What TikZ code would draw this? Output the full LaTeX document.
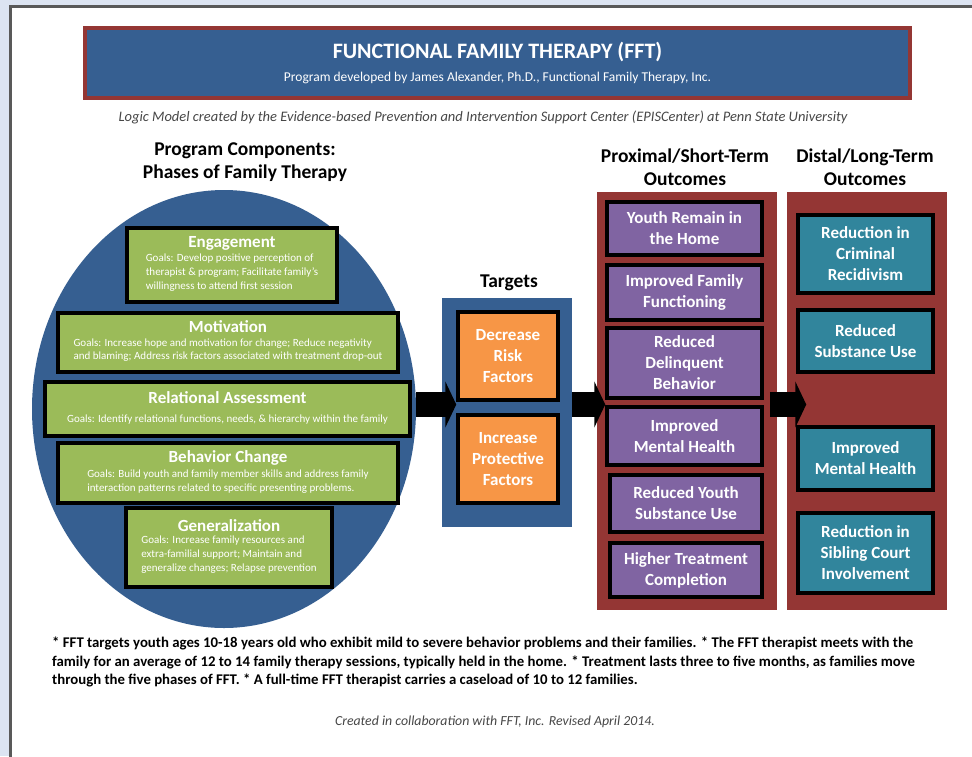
\documentclass[tikz,border=0pt]{standalone}
\usepackage{fontspec}
\setmainfont{Carlito}
\usepackage{xcolor}
\usetikzlibrary{arrows.meta,shapes,positioning}

\definecolor{pagebg}{RGB}{220,228,242}
\definecolor{fftblue}{RGB}{54,95,145}
\definecolor{fftred}{RGB}{148,54,52}
\definecolor{fftgreen}{RGB}{155,187,89}
\definecolor{fftorange}{RGB}{247,150,70}
\definecolor{fftpurple}{RGB}{128,100,162}
\definecolor{fftteal}{RGB}{49,133,156}

\newcommand{\phgoals}[1]{{\mdseries\fontsize{11}{13.8}\selectfont
    \begin{tabular}{@{}l@{}}#1\end{tabular}}}

\begin{document}
\begin{tikzpicture}[
    x=1pt, y=-1pt,
    >=Stealth,
    panel/.style={inner sep=0pt},
    phase/.style={draw=black, line width=3.5pt, fill=fftgreen,
        inner sep=0pt, align=center, text=white,
        font=\fontsize{17}{19}\selectfont\bfseries},
    target/.style={draw=black, line width=3.5pt, fill=fftorange,
        minimum width=100, minimum height=88, inner sep=0pt,
        align=center, text=white,
        font=\fontsize{17}{21}\selectfont\bfseries},
    shortterm/.style={target, fill=fftpurple, minimum width=155},
    longterm/.style={target, fill=fftteal, minimum width=135},
    heading/.style={align=center, font=\fontsize{19.5}{23}\selectfont\bfseries},
    remark/.style={text=black!72, font=\fontsize{14.5}{17}\selectfont\itshape},
    blockarr/.style={line width=25pt, -{Triangle[length=11pt,width=46pt]}}
]
\useasboundingbox (0,0) rectangle (972,756);
\fill[pagebg] (0,0) rectangle (972,756);
\draw[line width=3.5, draw=black!65, fill=white] (10.5,6.5) rectangle (1000,790);

% banner
\node[draw=fftred, line width=3.5pt, fill=fftblue, minimum width=825,
    minimum height=70, inner sep=0pt] (hdr) at (497.5,63) {};
\node[text=white, font=\fontsize{22}{25}\selectfont\bfseries] (ttl) at (497.5,52)
    {FUNCTIONAL FAMILY THERAPY (FFT)};
\node[text=white, font=\fontsize{13.5}{16}\selectfont] (sub) at (497.5,78)
    {Program developed by James Alexander, Ph.D., Functional Family Therapy, Inc.};
\node[remark] (lm) at (483,117)
    {Logic Model created by the Evidence-based Prevention and Intervention Support Center (EPISCenter) at Penn State University};

% phases
\node[heading] (H1) at (245,162) {Program Components:\\Phases of Family Therapy};
\node[ellipse, fill=fftblue, minimum width=384, minimum height=438,
    inner sep=0pt] (phases) at (224,409) {};
\node[phase, minimum width=210, minimum height=74] (G1) at (232,265)
    {Engagement\\[1pt]\phgoals{Goals: Develop positive perception of\\therapist \& program; Facilitate family's\\willingness to attend first session}};
\node[phase, minimum width=340, minimum height=59] (G2) at (228,342.5)
    {Motivation\\[1pt]\phgoals{Goals: Increase hope and motivation for change; Reduce negativity\\and blaming; Address risk factors associated with treatment drop-out}};
\node[phase, minimum width=365, minimum height=54] (G3) at (227.5,409)
    {Relational Assessment\\[0pt]\phgoals{Goals: Identify relational functions, needs, \& hierarchy within the family}};
\node[phase, minimum width=340, minimum height=60] (G4) at (228,473)
    {Behavior Change\\[1pt]\phgoals{Goals: Build youth and family member skills and address family\\interaction patterns related to specific presenting problems.}};
\node[phase, minimum width=206, minimum height=79] (G5) at (229,547.5)
    {Generalization\\[1pt]\phgoals{Goals: Increase family resources and\\extra-familial support; Maintain and\\generalize changes; Relapse prevention}};

% targets
\node[heading] (H2) at (509,283) {Targets};
\node[panel, fill=fftblue, minimum width=130, minimum height=229] (TB) at (507,412.5) {};
\node[target] (T1) at (508,356) {Decrease\\Risk\\Factors};
\node[target] (T2) at (508,459) {Increase\\Protective\\Factors};

% proximal outcomes
\node[heading] (H3) at (685,167) {Proximal/Short-Term\\Outcomes};
\node[panel, fill=fftred, minimum width=180, minimum height=418] (SP) at (687,401) {};
\node[shortterm, minimum height=53] (S1) at (684.5,228.5) {Youth Remain in\\the Home};
\node[shortterm, minimum height=55] (S2) at (684.5,292.5) {Improved Family\\Functioning};
\node[shortterm, minimum height=70] (S3) at (684.5,363) {Reduced\\Delinquent\\Behavior};
\node[shortterm, minimum height=58] (S4) at (684.5,436) {Improved\\Mental Health};
\node[shortterm, minimum width=152, minimum height=57] (S5) at (686,503.5) {Reduced Youth\\Substance Use};
\node[shortterm, minimum width=152, minimum height=54] (S6) at (686,570) {Higher Treatment\\Completion};

% distal outcomes
\node[heading] (H4) at (865,167) {Distal/Long-Term\\Outcomes};
\node[panel, fill=fftred, minimum width=160, minimum height=418] (DP) at (867,401) {};
\node[longterm, minimum height=78] (D1) at (865.5,254) {Reduction in\\Criminal\\Recidivism};
\node[longterm, minimum height=62] (D2) at (865.5,341) {Reduced\\Substance Use};
\node[longterm, minimum height=63] (D3) at (865.5,458.5) {Improved\\Mental Health};
\node[longterm, minimum height=80] (D4) at (865.5,553) {Reduction in\\Sibling Court\\Involvement};

% arrows between the columns
\coordinate (mid) at (0,404.5);
\draw[blockarr] (phases.east |- mid) -- (T1.west |- mid);
\draw[blockarr] (TB.east |- mid) -- (S3.west |- mid);
\draw[blockarr, shorten <=6pt, shorten >=-10pt] (S3.east |- mid) -- (D3.west |- mid);

% notes
\node[anchor=north west, align=left, inner sep=0pt,
    font=\fontsize{14.8}{18.5}\selectfont\bfseries] (note) at (52,637)
    {* FFT targets youth ages 10-18 years old who exhibit mild to severe behavior problems and their families. * The FFT therapist meets with the\\
     family for an average of 12 to 14 family therapy sessions, typically held in the home. * Treatment lasts three to five months, as families move\\
     through the five phases of FFT. * A full-time FFT therapist carries a caseload of 10 to 12 families.};
\node[remark, font=\fontsize{13.8}{16}\selectfont\itshape] (rev) at (495,722)
    {Created in collaboration with FFT, Inc. Revised April 2014.};
\end{tikzpicture}
\end{document}
